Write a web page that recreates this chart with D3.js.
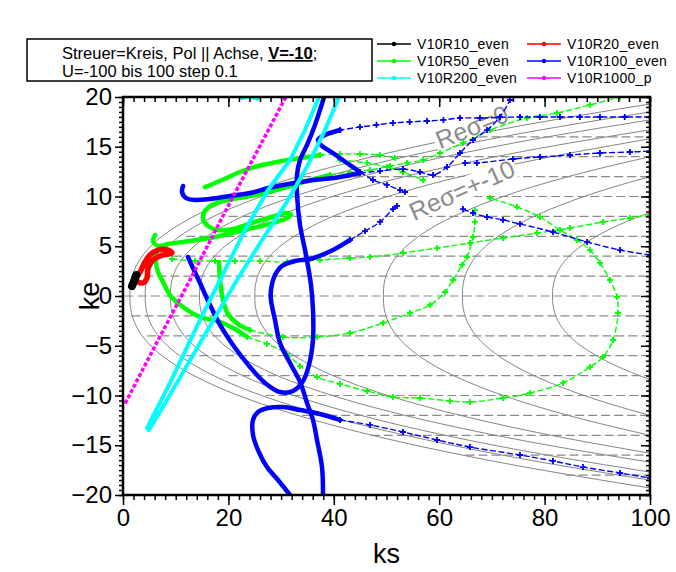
<!DOCTYPE html>
<meta charset="utf-8">
<script src="https://d3js.org/d3.v7.min.js"></script>
<style>
body { margin: 0; background: #fff; }
svg { display: block; font-family: Arial, "Liberation Sans", sans-serif; }
.tick text { font-family: Arial, "Liberation Sans", sans-serif; }
</style>
<body>
<div class="chart"></div>
<script>

// axis ticks
var xMajor = [0, 20, 40, 60, 80, 100],
    yMajor = [-20, -15, -10, -5, 0, 5, 10, 15, 20];

// grey reference curves, upper half [ks, |ke|], mirrored for ke < 0
var greyCurves = [
  [[1.3,0],[1.4,1.06],[1.6,1.68],[2.29,2.79],[4.26,4.42],[7.22,5.93],[11.17,7.33],[21.04,9.82],[35.85,12.41],[50.65,14.42],[75.33,17.1],[100,19.3]],
  [[4.2,0],[4.3,1.02],[4.49,1.61],[5.16,2.68],[7.07,4.24],[9.95,5.68],[13.78,7.03],[23.36,9.42],[37.73,11.9],[52.1,13.82],[76.05,16.39],[100,18.5]],
  [[9,0],[9.09,0.97],[9.27,1.54],[9.91,2.56],[11.73,4.05],[14.46,5.43],[18.1,6.73],[27.2,9.01],[40.85,11.38],[54.5,13.22],[77.25,15.68],[100,17.7]],
  [[14.5,0],[14.59,0.92],[14.76,1.45],[15.36,2.41],[17.07,3.82],[19.63,5.13],[23.05,6.35],[31.6,8.5],[44.43,10.74],[57.25,12.47],[78.63,14.8],[100,16.7]],
  [[25,0],[25.08,0.87],[25.23,1.37],[25.75,2.28],[27.25,3.62],[29.5,4.85],[32.5,6.0],[40,8.04],[51.25,10.16],[62.5,11.8],[81.25,14.0],[100,15.8]],
  [[49.4,0],[49.45,0.77],[49.55,1.22],[49.91,2.02],[50.92,3.21],[52.44,4.3],[54.46,5.32],[59.52,7.13],[67.11,9.0],[74.7,10.46],[87.35,12.4],[100,14]],
  [[64.4,0],[64.44,0.66],[64.51,1.04],[64.76,1.74],[65.47,2.75],[66.54,3.68],[67.96,4.56],[71.52,6.11],[76.86,7.72],[82.2,8.96],[91.1,10.63],[100,12]],
  [[81.5,0],[81.52,0.46],[81.56,0.73],[81.69,1.21],[82.06,1.92],[82.61,2.58],[83.35,3.19],[85.2,4.28],[87.98,5.4],[90.75,6.27],[95.38,7.44],[100,8.4]]
];

// horizontal dashed lines: level and where they begin
var dashKe    = [-18, -16, -14, -12, -10, -8, -6, -4, -2, 0, 2, 4, 6, 8, 10, 12, 14, 16],
    dashStart = [84, 65, 47, 34, 27, 20, 12, 4.6, 1.6, 0.3, 1.6, 4.6, 12, 20, 27, 34, 47, 65];

// series
var blackPts = [[1.7,1.0],[2.1,1.5],[2.5,2.1]];

var redPts = [[2.47,1.81],[3.23,2.41],[4.17,3.42],[5.12,4.12],[6.64,4.62],[8.54,4.62],[9.3,4.32],[7.59,4.12],
  [5.69,3.62],[4.74,2.81],[4.55,1.81],[3.8,1.31],[2.85,1.41]];

var greenDense = [
  [[15.56,10.95],[18.79,11.66],[22.2,12.46],[25.62,13.07],[29.22,13.47],[33.59,13.87],[37.38,14.17]],
  [[39.28,12.16],[33.59,11.36],[29.79,10.75],[26.0,10.25],[23.15,9.95],[19.92,9.65],[17.27,9.25],[15.56,8.54],
   [15.18,7.74],[16.13,7.04],[18.03,6.63],[20.87,6.73],[25.05,7.44],[28.84,8.04],[31.12,8.34],[31.88,8.14],
   [30.74,7.74],[26.95,7.14],[22.2,6.53],[17.46,5.93],[12.71,5.53],[8.54,5.23],[6.64,5.03],[5.69,5.53],[6.07,6.13]],
  [[6.45,4.32],[6.26,3.42],[6.64,2.41],[7.59,1.41],[8.92,0.1],[11.39,-1.11],[14.61,-2.11],[17.84,-2.51],[20.87,-3.22],[23.53,-4.12]],
  [[18.22,3.42],[18.41,1.61],[18.98,-0.4],[19.92,-1.81],[21.82,-2.81],[24.1,-3.42]]
];
var greenSparse = [
  [[37.38,14.17],[41.18,14.27],[44.97,14.27],[48.77,14.17],[51.61,13.87]],
  [[39.28,12.16],[43.07,12.46],[46.87,12.66],[50.66,13.07],[53.89,13.37],[56.93,13.67],[60.15,14.37],[64.52,15.38],
   [69.64,16.68],[76.66,17.89],[82.35,18.39],[88.61,19.2],[94.31,20]],
  [[41.18,13.67],[46.3,13.37],[50.09,12.96],[53.13,12.46],[56.93,11.66]],
  [[23.53,-4.12],[27.32,-4.82],[31.12,-5.83],[33.59,-7.04],[36.81,-8.14],[41.18,-8.84],[46.3,-9.55],[51.23,-10.15],
   [56.36,-10.25],[62.05,-10.55],[65.84,-10.65],[72.11,-10.25],[77.23,-9.75],[83.49,-8.74],[88.61,-7.14],[91.08,-6.13],
   [92.98,-4.42],[93.93,-1.71],[93.74,-0.1],[92.41,1.61],[90.51,3.32],[88.61,4.62],[86.15,5.63],[82.92,6.63],
   [79.13,7.94],[74.76,8.94],[69.64,9.85]],
  [[24.1,-3.42],[30.36,-4.12],[36.81,-4.12],[43.07,-3.72],[49.34,-2.71],[54.46,-1.71],[58.25,-0.9],[61.1,0.4],
   [62.62,1.61],[64.33,3.12],[65.28,3.92],[66.41,5.93],[66.79,7.44],[66.79,8.64]],
  [[9.3,3.72],[13.66,3.52],[17.46,3.52],[21.25,3.52],[26.0,3.52],[31.12,3.42],[37.38,3.62],[43.07,3.82],[46.87,3.92],
   [53.13,4.32],[59.58,4.82],[65.84,5.33],[72.11,5.83],[78.56,6.33],[84.82,6.83],[91.08,7.44],[96.2,7.84],[100,8.14]]
];

var blueDense = [
  [[11.39,11.06],[11.2,10.45],[11.95,9.85],[13.66,9.65],[16.51,9.75],[20.3,10.05],[24.1,10.35],[28.46,10.95],
   [34.92,11.56],[41.18,11.96],[44.97,12.36]],
  [[41.18,16.68],[38.33,16.18],[37.0,15.68],[37.76,15.08],[39.85,14.37],[42.5,13.37],[44.97,12.46]],
  [[12.33,3.92],[13.28,2.81],[14.61,1.31],[16.51,-0.9],[18.41,-2.91],[20.87,-4.92],[24.1,-7.14],[26.95,-8.74],
   [29.79,-9.65],[32.26,-9.55],[34.16,-8.54],[35.29,-6.93],[36.05,-4.42],[36.05,-1.41],[35.67,1.11],[34.72,4.12],
   [33.59,7.14],[33.02,10.15],[33.02,12.16],[33.59,13.67],[34.92,15.18],[36.43,17.19],[37.38,18.69],[38.14,20.0]],
  [[37.95,-20],[37.76,-17.19],[36.81,-14.47],[36.05,-12.46],[34.92,-10.75],[33.59,-8.64],[31.69,-6.73],[29.79,-4.72],
   [28.84,-2.41],[28.08,-0.4],[28.08,0.6],[28.84,2.11],[30.17,3.02],[32.64,3.52],[35.48,3.72],[39.85,4.62],[43.07,5.63]],
  [[31.69,-20],[29.41,-18.49],[27.32,-17.19],[25.62,-15.48],[24.67,-13.97],[24.67,-12.46],[25.62,-11.66],[27.51,-11.26],
   [30.36,-11.16],[33.59,-11.46],[37.38,-11.86],[41.18,-12.46]]
];
var blueSparse = [
  [[44.97,12.36],[48.77,12.56],[53.13,12.76],[56.36,12.46],[58.83,12.16],[61.48,12.96],[63.95,14.37],[66.41,15.68],
   [69.07,16.68],[71.54,17.99],[73.43,19.7]],
  [[100,17.99],[95.2,17.99],[90.51,17.99],[86.7,17.99],[82.92,17.99],[79.1,17.99],[75.33,17.99],[71.5,17.95],[67.74,17.89],
   [63.95,17.89],[60.8,17.7],[57.69,17.59],[54.4,17.5],[51.23,17.39],[48.1,17.2],[44.97,16.98],[41.18,16.68]],
  [[44.97,12.46],[47.44,11.66],[50.09,11.16],[52.56,10.65],[53.51,10.45]],
  [[43.07,5.63],[45.92,6.53],[48.77,7.44],[51.23,8.74],[51.99,9.05]],
  [[41.18,-12.46],[46.87,-12.96],[53.13,-13.67],[59.58,-14.47],[65.84,-15.18],[75.33,-15.98],[81.59,-16.58],
   [87.29,-17.19],[94.31,-17.79],[100,-18.29]],
  [[64.52,8.74],[66.41,8.34],[69.07,7.94],[72.11,7.64],[75.33,7.24],[81.59,6.43],[88.05,5.43],[94.31,4.62],[100,4.12]],
  [[64.9,13.37],[67.17,13.37],[74.0,13.77],[79.13,13.97],[84.82,14.17],[90.51,14.37],[96.2,14.47],[100,14.57]]
];

var cyanPts = [[40.99,20],[38.33,16.68],[35.1,13.17],[30.74,9.15],[26.38,5.63],[21.63,1.61],[14.61,-4.72],[8.35,-10.45],
  [4.93,-13.47],[4.55,-13.27],[8.92,-8.74],[14.61,-2.41],[18.41,1.61],[23.15,6.63],[27.51,10.65],[31.69,13.67],
  [34.54,16.68],[37.19,20]];
var cyanTop = [[22.6,19.9],[24.1,20.1],[25.6,19.8]];

var magentaPts = [[0.4,-10.8],[5.7,-5.4],[12.7,1.6],[20.3,9.4],[25.6,14.7],[30.9,20]];

var seriesNames  = ["V10R10_even", "V10R20_even", "V10R50_even", "V10R100_even", "V10R200_even", "V10R1000_p"],
    seriesColors = ["#000000", "#ff0000", "#00ff00", "#0000ff", "#00ffff", "#ff00ff"];

// layout
var W = 676, H = 572,
    pLeft = 123, pRight = 650, pTop = 97, pBottom = 495;

var svg = d3.select(".chart").append("svg")
    .attr("width", W)
    .attr("height", H);

var x = d3.scaleLinear().domain([0, 100]).range([pLeft, pRight]);
var y = d3.scaleLinear().domain([-20, 20]).range([pBottom, pTop]);

svg.append("clipPath").attr("id", "plotclip")
  .append("rect")
    .attr("x", pLeft).attr("y", pTop)
    .attr("width", pRight - pLeft).attr("height", pBottom - pTop);

var plot = svg.append("g").attr("clip-path", "url(#plotclip)");

// grey curves
var greyLine = d3.line()
    .x(function(d) { return x(d[0]); })
    .y(function(d) { return y(d[1]); })
    .curve(d3.curveMonotoneY);

greyCurves.forEach(function(c) {
  var full = c.slice().reverse().map(function(p) { return [p[0], -p[1]]; }).concat(c.slice(1));
  plot.append("path")
      .datum(full)
      .attr("d", greyLine)
      .attr("fill", "none")
      .attr("stroke", "#858585")
      .attr("stroke-width", 1);
});

plot.selectAll(".dash")
    .data(dashKe)
  .enter().append("line")
    .attr("class", "dash")
    .attr("x1", function(d, i) { return x(dashStart[i]); })
    .attr("x2", x(100))
    .attr("y1", function(d) { return y(d); })
    .attr("y2", function(d) { return y(d); })
    .attr("stroke", "#8a8a8a")
    .attr("stroke-width", 1.2)
    .attr("stroke-dasharray", "9,4");

// Re sigma labels with white backing
function reLabel(txt, cx, cy, ang) {
  var g = plot.append("g").attr("transform", "translate(" + cx + "," + cy + ") rotate(" + ang + ")");
  var t = g.append("text")
      .attr("text-anchor", "middle")
      .attr("dy", "0.35em")
      .attr("font-size", 25)
      .attr("fill", "#8c8c8c")
      .text(txt);
  var b = t.node().getBBox();
  g.insert("rect", "text")
      .attr("x", b.x - 2).attr("y", b.y + 3)
      .attr("width", b.width + 4).attr("height", b.height - 6)
      .attr("fill", "#fff");
}
reLabel("Re\u03c3=0", 472, 127, -22);
reLabel("Re\u03c3=+-10", 462, 190, -24);

// data
var smooth = d3.line()
    .x(function(d) { return x(d[0]); })
    .y(function(d) { return y(d[1]); })
    .curve(d3.curveCatmullRom.alpha(0.5));
var straight = d3.line()
    .x(function(d) { return x(d[0]); })
    .y(function(d) { return y(d[1]); });

function dense(pts, color, w, gen) {
  plot.append("path")
      .datum(pts)
      .attr("d", gen || smooth)
      .attr("fill", "none")
      .attr("stroke", color)
      .attr("stroke-width", w)
      .attr("stroke-linecap", "round")
      .attr("stroke-linejoin", "round");
}

function sparse(pts, color) {
  plot.append("path")
      .datum(pts)
      .attr("d", smooth)
      .attr("fill", "none")
      .attr("stroke", color)
      .attr("stroke-width", 1.4)
      .attr("stroke-dasharray", "6,2.5");
  plot.selectAll(null)
      .data(pts)
    .enter().append("path")
      .attr("d", "M-3,0H3M0,-3V3")
      .attr("transform", function(d) { return "translate(" + x(d[0]) + "," + y(d[1]) + ")"; })
      .attr("stroke", color)
      .attr("stroke-width", 1.8);
}

greenSparse.forEach(function(s) { sparse(s, seriesColors[2]); });
greenDense.forEach(function(s) { dense(s, seriesColors[2], 4.5); });
blueSparse.forEach(function(s) { sparse(s, seriesColors[3]); });
blueDense.forEach(function(s) { dense(s, seriesColors[3], 4.5); });

dense(cyanPts, seriesColors[4], 4, straight);
dense(cyanTop, seriesColors[4], 4, straight);

plot.append("path")
    .datum(magentaPts)
    .attr("d", straight)
    .attr("fill", "none")
    .attr("stroke", seriesColors[5])
    .attr("stroke-width", 3.5)
    .attr("stroke-dasharray", "4,2");

dense(redPts, seriesColors[1], 5.5);
dense(blackPts, seriesColors[0], 8);

// axes
function styleAxis(g) {
  g.select(".domain").remove();
  g.selectAll(".tick line").attr("stroke", "#000").attr("stroke-width", 1.5);
  g.selectAll(".tick text").attr("font-size", 24).attr("fill", "#000");
}

svg.append("g").attr("transform", "translate(0," + pBottom + ")")
    .call(d3.axisBottom(x).tickValues(d3.range(0, 101, 2)).tickSize(5).tickFormat(""))
    .call(styleAxis);
svg.append("g").attr("transform", "translate(0," + pBottom + ")")
    .call(d3.axisBottom(x).tickValues(xMajor).tickSize(10).tickPadding(4).tickFormat(d3.format("d")))
    .call(styleAxis);

svg.append("g").attr("transform", "translate(0," + pTop + ")")
    .call(d3.axisBottom(x).tickValues(d3.range(0, 101, 2)).tickSize(5).tickFormat(""))
    .call(styleAxis);
svg.append("g").attr("transform", "translate(0," + pTop + ")")
    .call(d3.axisBottom(x).tickValues(xMajor).tickSize(10).tickFormat(""))
    .call(styleAxis);

svg.append("g").attr("transform", "translate(" + pLeft + ",0)")
    .call(d3.axisLeft(y).tickValues(d3.range(-20, 20.01, 0.5)).tickSize(4).tickFormat(""))
    .call(styleAxis);
svg.append("g").attr("transform", "translate(" + pLeft + ",0)")
    .call(d3.axisLeft(y).tickValues(yMajor).tickSize(8).tickPadding(3).tickFormat(d3.format("d")))
    .call(styleAxis);

svg.append("g").attr("transform", "translate(" + pRight + ",0)")
    .call(d3.axisLeft(y).tickValues(d3.range(-20, 20.01, 0.5)).tickSize(4).tickFormat(""))
    .call(styleAxis);
svg.append("g").attr("transform", "translate(" + pRight + ",0)")
    .call(d3.axisLeft(y).tickValues(yMajor).tickSize(9).tickFormat(""))
    .call(styleAxis);

svg.append("rect")
    .attr("x", pLeft).attr("y", pTop)
    .attr("width", pRight - pLeft).attr("height", pBottom - pTop)
    .attr("fill", "none")
    .attr("stroke", "#000")
    .attr("stroke-width", 2.5);

svg.append("text")
    .attr("x", (pLeft + pRight) / 2)
    .attr("y", 563)
    .attr("text-anchor", "middle")
    .attr("font-size", 27)
    .text("ks");

svg.append("text")
    .attr("transform", "translate(99," + y(0) + ") rotate(-90)")
    .attr("text-anchor", "middle")
    .attr("font-size", 27)
    .text("ke");

// title box
svg.append("rect")
    .attr("x", 27).attr("y", 39)
    .attr("width", 345).attr("height", 42)
    .attr("fill", "#fff")
    .attr("stroke", "#000")
    .attr("stroke-width", 1.5);

var t1 = svg.append("text").attr("x", 62).attr("y", 59).attr("font-size", 16.5);
t1.append("tspan").text("Streuer=Kreis, Pol || Achse, ");
t1.append("tspan").attr("font-weight", "bold").attr("text-decoration", "underline").text("V=-10");
t1.append("tspan").text(";");

svg.append("text").attr("x", 62).attr("y", 77).attr("font-size", 16.5).text("U=-100 bis 100 step 0.1");

// legend
var legX = [377, 527], legY = [44, 61, 78];
var leg = svg.selectAll(".legend")
    .data(seriesNames)
  .enter().append("g")
    .attr("class", "legend")
    .attr("transform", function(d, i) { return "translate(" + legX[i % 2] + "," + legY[Math.floor(i / 2)] + ")"; });

leg.append("line")
    .attr("x1", 0).attr("x2", 34)
    .attr("stroke", function(d, i) { return seriesColors[i]; })
    .attr("stroke-width", 1.5);
leg.append("circle")
    .attr("cx", 17).attr("r", 2.2)
    .attr("fill", function(d, i) { return seriesColors[i]; });
leg.append("text")
    .attr("x", 40)
    .attr("dy", "0.35em")
    .attr("font-size", 14)
    .attr("letter-spacing", 0.3)
    .text(function(d) { return d; });

</script>
</body>
